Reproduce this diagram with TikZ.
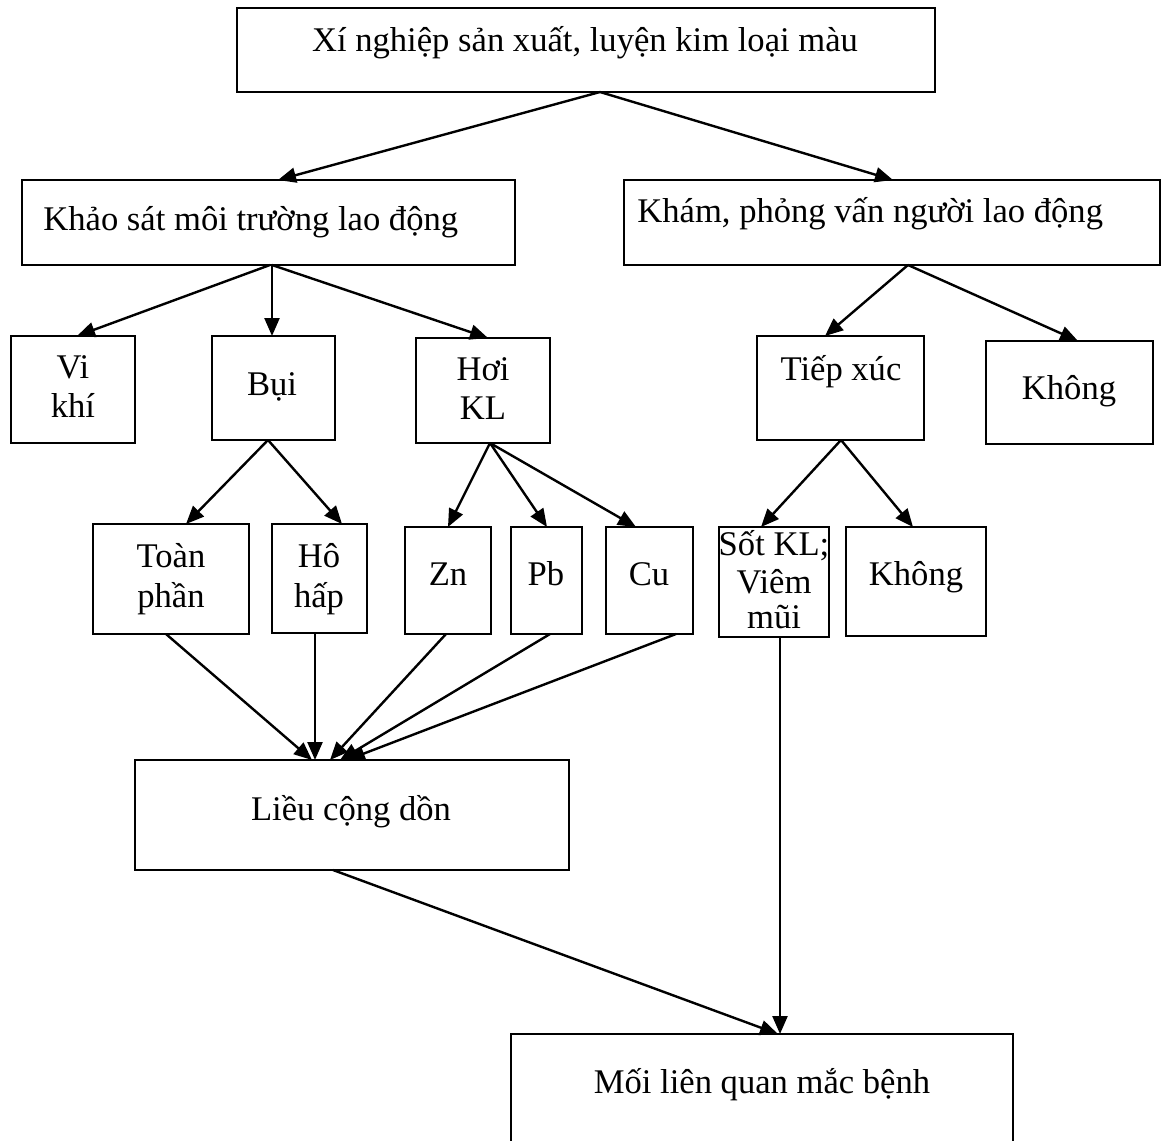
\documentclass[tikz,border=0pt]{standalone}
\usepackage{fontspec}
\setmainfont{Liberation Serif}
\usetikzlibrary{arrows.meta,calc}
\newcommand\mkbox[5]{\node[box,minimum width={(#4-#2)*0.5pt},minimum height={(#5-#3)*0.5pt}] (#1) at ({(#2+#4)/2},{(#3+#5)/2}) {};}
\begin{document}
\begin{tikzpicture}[x=0.5pt,y=-0.5pt,
  box/.style={draw,line width=1pt,inner sep=0pt,outer sep=0pt},
  txt/.style={anchor=base,inner sep=0pt,font=\fontsize{17.3}{20}\selectfont},
  arr/.style={line width=1.2pt,-{Triangle[length=9pt,width=7.5pt]}}]
\useasboundingbox (0,0) rectangle (1161,1140);
\clip (0,0) rectangle (1161,1140);
% boxes
\mkbox{top}{237}{8}{935}{92}
\mkbox{khao}{22}{180}{515}{265}
\mkbox{kham}{624}{180}{1160}{265}
\mkbox{vikhi}{11}{336}{135}{443}
\mkbox{bui}{212}{336}{335}{440}
\mkbox{hoi}{416}{338}{550}{443}
\mkbox{tiep}{757}{336}{924}{440}
\mkbox{khong1}{986}{341}{1153}{444}
\mkbox{toan}{93}{524}{249}{634}
\mkbox{hoh}{272}{524}{367}{633}
\mkbox{zn}{405}{527}{491}{634}
\mkbox{pb}{511}{527}{582}{634}
\mkbox{cu}{606}{527}{693}{634}
\mkbox{sot}{719}{527}{829}{637}
\mkbox{khong2}{846}{527}{986}{636}
\mkbox{lieu}{135}{760}{569}{870}
\mkbox{moi}{511}{1034}{1013}{1170}
% texts
\node[txt] (t-top) at (585,51) {Xí nghiệp sản xuất, luyện kim loại màu};
\node[txt,anchor=base west] (t-khao) at (43,230) {Khảo sát môi trường lao động};
\node[txt,anchor=base west] (t-kham) at (637,222) {Khám, phỏng vấn người lao động};
\node[txt] (t-vi1) at (73,378) {Vi};
\node[txt] (t-vi2) at (73,417) {khí};
\node[txt] (t-bui) at (272,395) {Bụi};
\node[txt] (t-hoi1) at (483,380) {Hơi};
\node[txt] (t-hoi2) at (483,419) {KL};
\node[txt] (t-tiep) at (841,380) {Tiếp xúc};
\node[txt] (t-khong1) at (1069,399) {Không};
\node[txt] (t-toan1) at (171,567) {Toàn};
\node[txt] (t-toan2) at (171,607) {phần};
\node[txt] (t-hoh1) at (319,567) {Hô};
\node[txt] (t-hoh2) at (319,607) {hấp};
\node[txt] (t-zn) at (448,585) {Zn};
\node[txt] (t-pb) at (546,585) {Pb};
\node[txt] (t-cu) at (649,585) {Cu};
\node[txt] (t-sot1) at (774,555) {Sốt KL;};
\node[txt] (t-sot2) at (774,593) {Viêm};
\node[txt] (t-sot3) at (774,628) {mũi};
\node[txt] (t-khong2) at (916,585) {Không};
\node[txt] (t-lieu) at (351,820) {Liều cộng dồn};
\node[txt] (t-moi) at (762,1093) {Mối liên quan mắc bệnh};
% connectors
\draw[arr] ($(top.south west)+(363,0)$) -- ($(khao.north west)+(256,0)$);
\draw[arr] ($(top.south west)+(363,0)$) -- ($(kham.north west)+(269,0)$);
\draw[arr] ($(khao.south west)+(248,0)$) -- ($(vikhi.north west)+(66,0)$);
\draw[arr] ($(khao.south west)+(250,0)$) -- ($(bui.north west)+(60,0)$);
\draw[arr] ($(khao.south west)+(250,0)$) -- ($(hoi.north west)+(72,0)$);
\draw[arr] ($(kham.south west)+(284,0)$) -- ($(tiep.north west)+(68,0)$);
\draw[arr] ($(kham.south west)+(284,0)$) -- ($(khong1.north west)+(92,0)$);
\draw[arr] ($(bui.south west)+(56,0)$) -- ($(toan.north west)+(93,0)$);
\draw[arr] ($(bui.south west)+(56,0)$) -- ($(hoh.north west)+(70,0)$);
\draw[arr] ($(hoi.south west)+(74,0)$) -- ($(zn.north west)+(43,0)$);
\draw[arr] ($(hoi.south west)+(74,0)$) -- ($(pb.north west)+(36,0)$);
\draw[arr] ($(hoi.south west)+(74,0)$) -- ($(cu.north west)+(30,0)$);
\draw[arr] ($(tiep.south west)+(84,0)$) -- ($(sot.north west)+(42,0)$);
\draw[arr] ($(tiep.south west)+(84,0)$) -- ($(khong2.north west)+(67,0)$);
\draw[arr] ($(toan.south west)+(73,0)$) -- ($(lieu.north west)+(177,0)$);
\draw[arr] ($(hoh.south west)+(43,0)$) -- ($(lieu.north west)+(180,0)$);
\draw[arr] ($(zn.south west)+(41,0)$) -- ($(lieu.north west)+(195,0)$);
\draw[arr] ($(pb.south west)+(39,0)$) -- ($(lieu.north west)+(205,0)$);
\draw[arr] ($(cu.south west)+(70,0)$) -- ($(lieu.north west)+(212,0)$);
\draw[arr] ($(lieu.south west)+(198,0)$) -- ($(moi.north west)+(267,0)$);
\draw[arr] ($(sot.south west)+(61,0)$) -- ($(moi.north west)+(269,0)$);
\end{tikzpicture}
\end{document}
